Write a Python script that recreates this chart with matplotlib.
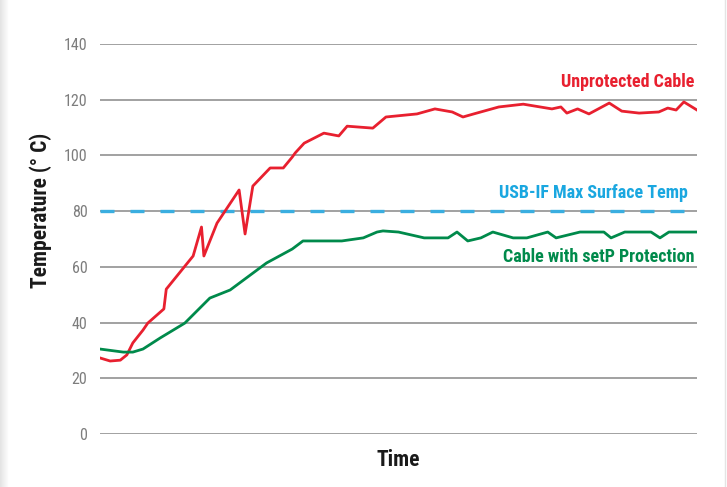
import matplotlib
matplotlib.use("Agg")
import matplotlib.pyplot as plt
import numpy as np

# ---- data (time in arbitrary units 0..100, temperature in °C) ----
red_time = [0, 1.7, 3.4, 4.5, 5.5, 7.2, 8.0, 10.7, 11.1, 15.6, 17.0, 17.4, 19.6, 23.3, 24.3, 25.6, 28.5, 30.7, 32.2, 32.7,
            34.2, 37.5, 40.0, 41.4, 45.7, 47.9, 53.1, 56.1, 59.0, 60.8, 62.6, 66.8, 70.9, 75.7, 77.2, 78.2, 80.0, 81.9,
            85.3, 87.4, 90.3, 93.6, 95.1, 96.5, 97.8, 100]
red_temp = [27.3, 26.2, 26.5, 28.4, 32.7, 37.3, 39.8, 44.9, 52.0, 63.9, 74.3, 63.9, 75.7, 87.6, 71.8, 89.0, 95.5, 95.5,
            99.4, 100.9, 104.4, 108.0, 107.0, 110.5, 109.8, 113.8, 114.9, 116.7, 115.6, 113.8, 114.9, 117.4, 118.4,
            116.7, 117.4, 115.2, 116.7, 114.9, 118.8, 115.9, 115.2, 115.6, 117.0, 116.3, 119.2, 116.3]

green_time = [0, 3.9, 5.5, 7.2, 10.1, 14.2, 18.4, 21.8, 27.9, 32.2, 34.0, 37.5, 40.5, 44.1, 46.4, 47.4, 50.0, 54.3,
              58.3, 59.8, 61.6, 63.8, 65.8, 69.2, 71.5, 75.0, 76.4, 80.4, 84.4, 85.6, 87.9, 92.3, 93.8, 95.3, 100]
green_temp = [30.5, 29.4, 29.4, 30.5, 34.5, 39.8, 48.8, 51.7, 61.4, 66.4, 69.3, 69.3, 69.3, 70.4, 72.5, 72.9, 72.5,
              70.4, 70.4, 72.5, 69.3, 70.4, 72.5, 70.4, 70.4, 72.5, 70.4, 72.5, 72.5, 70.4, 72.5, 72.5, 70.4, 72.5, 72.5]

limit_temp = 80
y_ticks = [0, 20, 40, 60, 80, 100, 120, 140]
label_red = "Unprotected Cable"
label_limit = "USB-IF Max Surface Temp"
label_green = "Cable with setP Protection"

# ---- fonts ----
plt.rcParams["font.family"] = ["Roboto Condensed", "DejaVu Sans"]

RED = "#e8202f"
GREEN = "#008a4b"
BLUE = "#1aa7e0"
DASH = "#3aaee0"
GRID = "#9a9a9a"

fig = plt.figure(figsize=(7.27, 4.87), dpi=100)
fig.patch.set_facecolor("white")

# card shadow on the left edge and thin line on the right edge
shadow = fig.add_axes([0, 0, 9 / 727, 1])
grad = np.linspace(0.89, 1.0, 50).reshape(1, -1)
shadow.imshow(grad, aspect="auto", cmap="gray", vmin=0, vmax=1, extent=[0, 1, 0, 1])
shadow.axis("off")
fig.add_artist(plt.Line2D([724.5 / 727, 724.5 / 727], [0, 1], transform=fig.transFigure, color="#e4e4e4", lw=1))

ax = fig.add_axes([100 / 727, 53 / 487, 597 / 727, 390 / 487])
ax.set_facecolor("none")
ax.set_xlim(0, 100)
ax.set_ylim(0, 140)
for s in ax.spines.values():
    s.set_visible(False)
ax.set_yticks(y_ticks)
ax.set_xticks([])
ax.tick_params(axis="y", length=0, pad=9, labelsize=11.5, labelcolor="#7d7d7d")
ax.grid(axis="y", color=GRID, lw=1.3)
ax.set_axisbelow(True)

ax.axhline(limit_temp, color=DASH, lw=2.4, dashes=(4.2, 4.8), zorder=2)
ax.plot(red_time, red_temp, color=RED, lw=2.0, zorder=3)
ax.plot(green_time, green_temp, color=GREEN, lw=2.0, zorder=3)

ax.text(99.6, 126.3, label_red, color=RED, fontsize=13, fontweight="bold", ha="right", va="center")
ax.text(98.5, 86.5, label_limit, color=BLUE, fontsize=13, fontweight="bold", ha="right", va="center")
ax.text(99.6, 63.5, label_green, color=GREEN, fontsize=13, fontweight="bold", ha="right", va="center")

ax.set_ylabel("Temperature (° C)", fontsize=15.5, fontweight="bold", color="#1a1a1a", va="center")
ax.yaxis.set_label_coords((41 - 100) / 597, (434 - 210) / 390)
ax.set_xlabel("Time", fontsize=15.5, fontweight="bold", color="#1a1a1a", va="center")
ax.xaxis.set_label_coords(0.5, (434 - 460) / 390)

fig.savefig("out.png", dpi=100)
